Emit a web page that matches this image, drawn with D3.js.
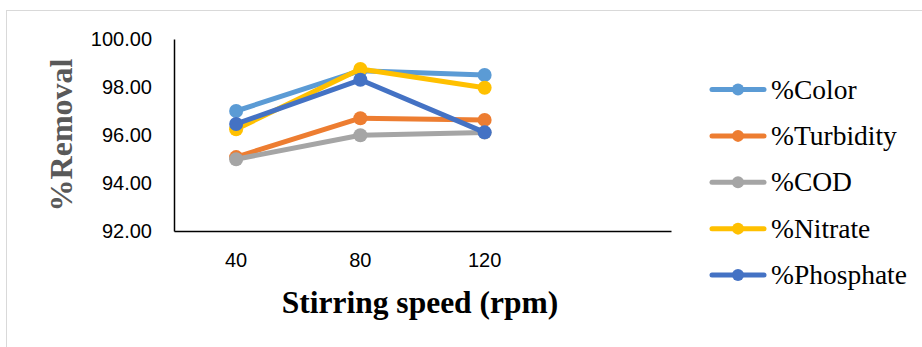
<!DOCTYPE html>
<html>
<head>
<meta charset="utf-8">
<script src="https://cdn.jsdelivr.net/npm/d3@7"></script>
<style>
  html, body { margin: 0; padding: 0; background: #fff; }
  svg { display: block; }
</style>
</head>
<body>
<script>
// Stirring speed categories (last slot left empty, as in the plotted area)
const categories = ["40", "80", "120", ""];
const seriesNames = ["%Color", "%Turbidity", "%COD", "%Nitrate", "%Phosphate"];
const colorValues     = [97.00, 98.68, 98.50];
const turbidityValues = [95.08, 96.70, 96.63];
const codValues       = [94.99, 95.99, 96.10];
const nitrateValues   = [96.24, 98.75, 97.97];
const phosphateValues = [96.46, 98.30, 96.11];
const yTicks = [92, 94, 96, 98, 100];
const seriesColors = ["#5B9BD5", "#ED7D31", "#A5A5A5", "#FFC000", "#4472C4"];

const series = seriesNames.map((name, i) => ({
  name,
  color: seriesColors[i],
  values: [colorValues, turbidityValues, codValues, nitrateValues, phosphateValues][i]
}));

const W = 922, H = 347;
const plot = { left: 174, right: 671, top: 39, bottom: 231 };

const svg = d3.select("body").append("svg").attr("width", W).attr("height", H);

// outer chart frame
svg.append("rect")
  .attr("x", 6.5).attr("y", 10.5)
  .attr("width", W + 20).attr("height", H + 20)
  .attr("fill", "none").attr("stroke", "#d9d9d9").attr("stroke-width", 1);

const x = d3.scaleBand().domain(categories).range([plot.left, plot.right]);
const y = d3.scaleLinear().domain([92, 100]).range([plot.bottom, plot.top]);

// y axis
const yAxis = d3.axisLeft(y).tickValues(yTicks).tickSize(0).tickPadding(22)
  .tickFormat(d3.format(".2f"));
const gy = svg.append("g").attr("transform", `translate(${plot.left},0)`).call(yAxis);
gy.select(".domain").attr("stroke", "#000").attr("stroke-width", 1.5);
gy.selectAll("text")
  .attr("font-family", "Liberation Sans, Arial, sans-serif")
  .attr("font-size", 20).attr("fill", "#000");

// x axis
const xAxis = d3.axisBottom(x).tickSize(0).tickPadding(22);
const gx = svg.append("g").attr("transform", `translate(0,${plot.bottom})`).call(xAxis);
gx.select(".domain").attr("stroke", "#000").attr("stroke-width", 1.5);
gx.selectAll("text")
  .attr("font-family", "Liberation Sans, Arial, sans-serif")
  .attr("font-size", 20).attr("fill", "#000");

// axis titles
svg.append("text")
  .attr("x", 420).attr("y", 313)
  .attr("text-anchor", "middle")
  .attr("font-family", "Liberation Serif, 'Times New Roman', serif")
  .attr("font-weight", "bold").attr("font-size", 31.5).attr("fill", "#000")
  .text("Stirring speed (rpm)");

svg.append("text")
  .attr("transform", "translate(72,135) rotate(-90)")
  .attr("text-anchor", "middle")
  .attr("font-family", "Liberation Serif, 'Times New Roman', serif")
  .attr("font-weight", "bold").attr("font-size", 32).attr("fill", "#595959")
  .text("%Removal");

// series lines and markers
const cx = (i) => x(categories[i]) + x.bandwidth() / 2;
const line = d3.line().x((d, i) => cx(i)).y(d => y(d));

series.forEach(s => {
  const g = svg.append("g");
  g.append("path")
    .attr("d", line(s.values))
    .attr("fill", "none").attr("stroke", s.color)
    .attr("stroke-width", 5).attr("stroke-linejoin", "round").attr("stroke-linecap", "round");
  g.selectAll("circle").data(s.values).join("circle")
    .attr("cx", (d, i) => cx(i)).attr("cy", d => y(d))
    .attr("r", 7).attr("fill", s.color);
});

// legend
const legend = svg.append("g");
const legY = d3.scalePoint().domain(seriesNames).range([89.5, 275]);
series.forEach(s => {
  const ly = legY(s.name);
  legend.append("line")
    .attr("x1", 712).attr("x2", 764).attr("y1", ly).attr("y2", ly)
    .attr("stroke", s.color).attr("stroke-width", 5).attr("stroke-linecap", "round");
  legend.append("circle").attr("cx", 738).attr("cy", ly).attr("r", 6).attr("fill", s.color);
  legend.append("text")
    .attr("x", 771).attr("y", ly + 9)
    .attr("font-family", "Liberation Serif, 'Times New Roman', serif")
    .attr("font-size", 27.5).attr("fill", "#000")
    .text(s.name);
});
</script>
</body>
</html>
